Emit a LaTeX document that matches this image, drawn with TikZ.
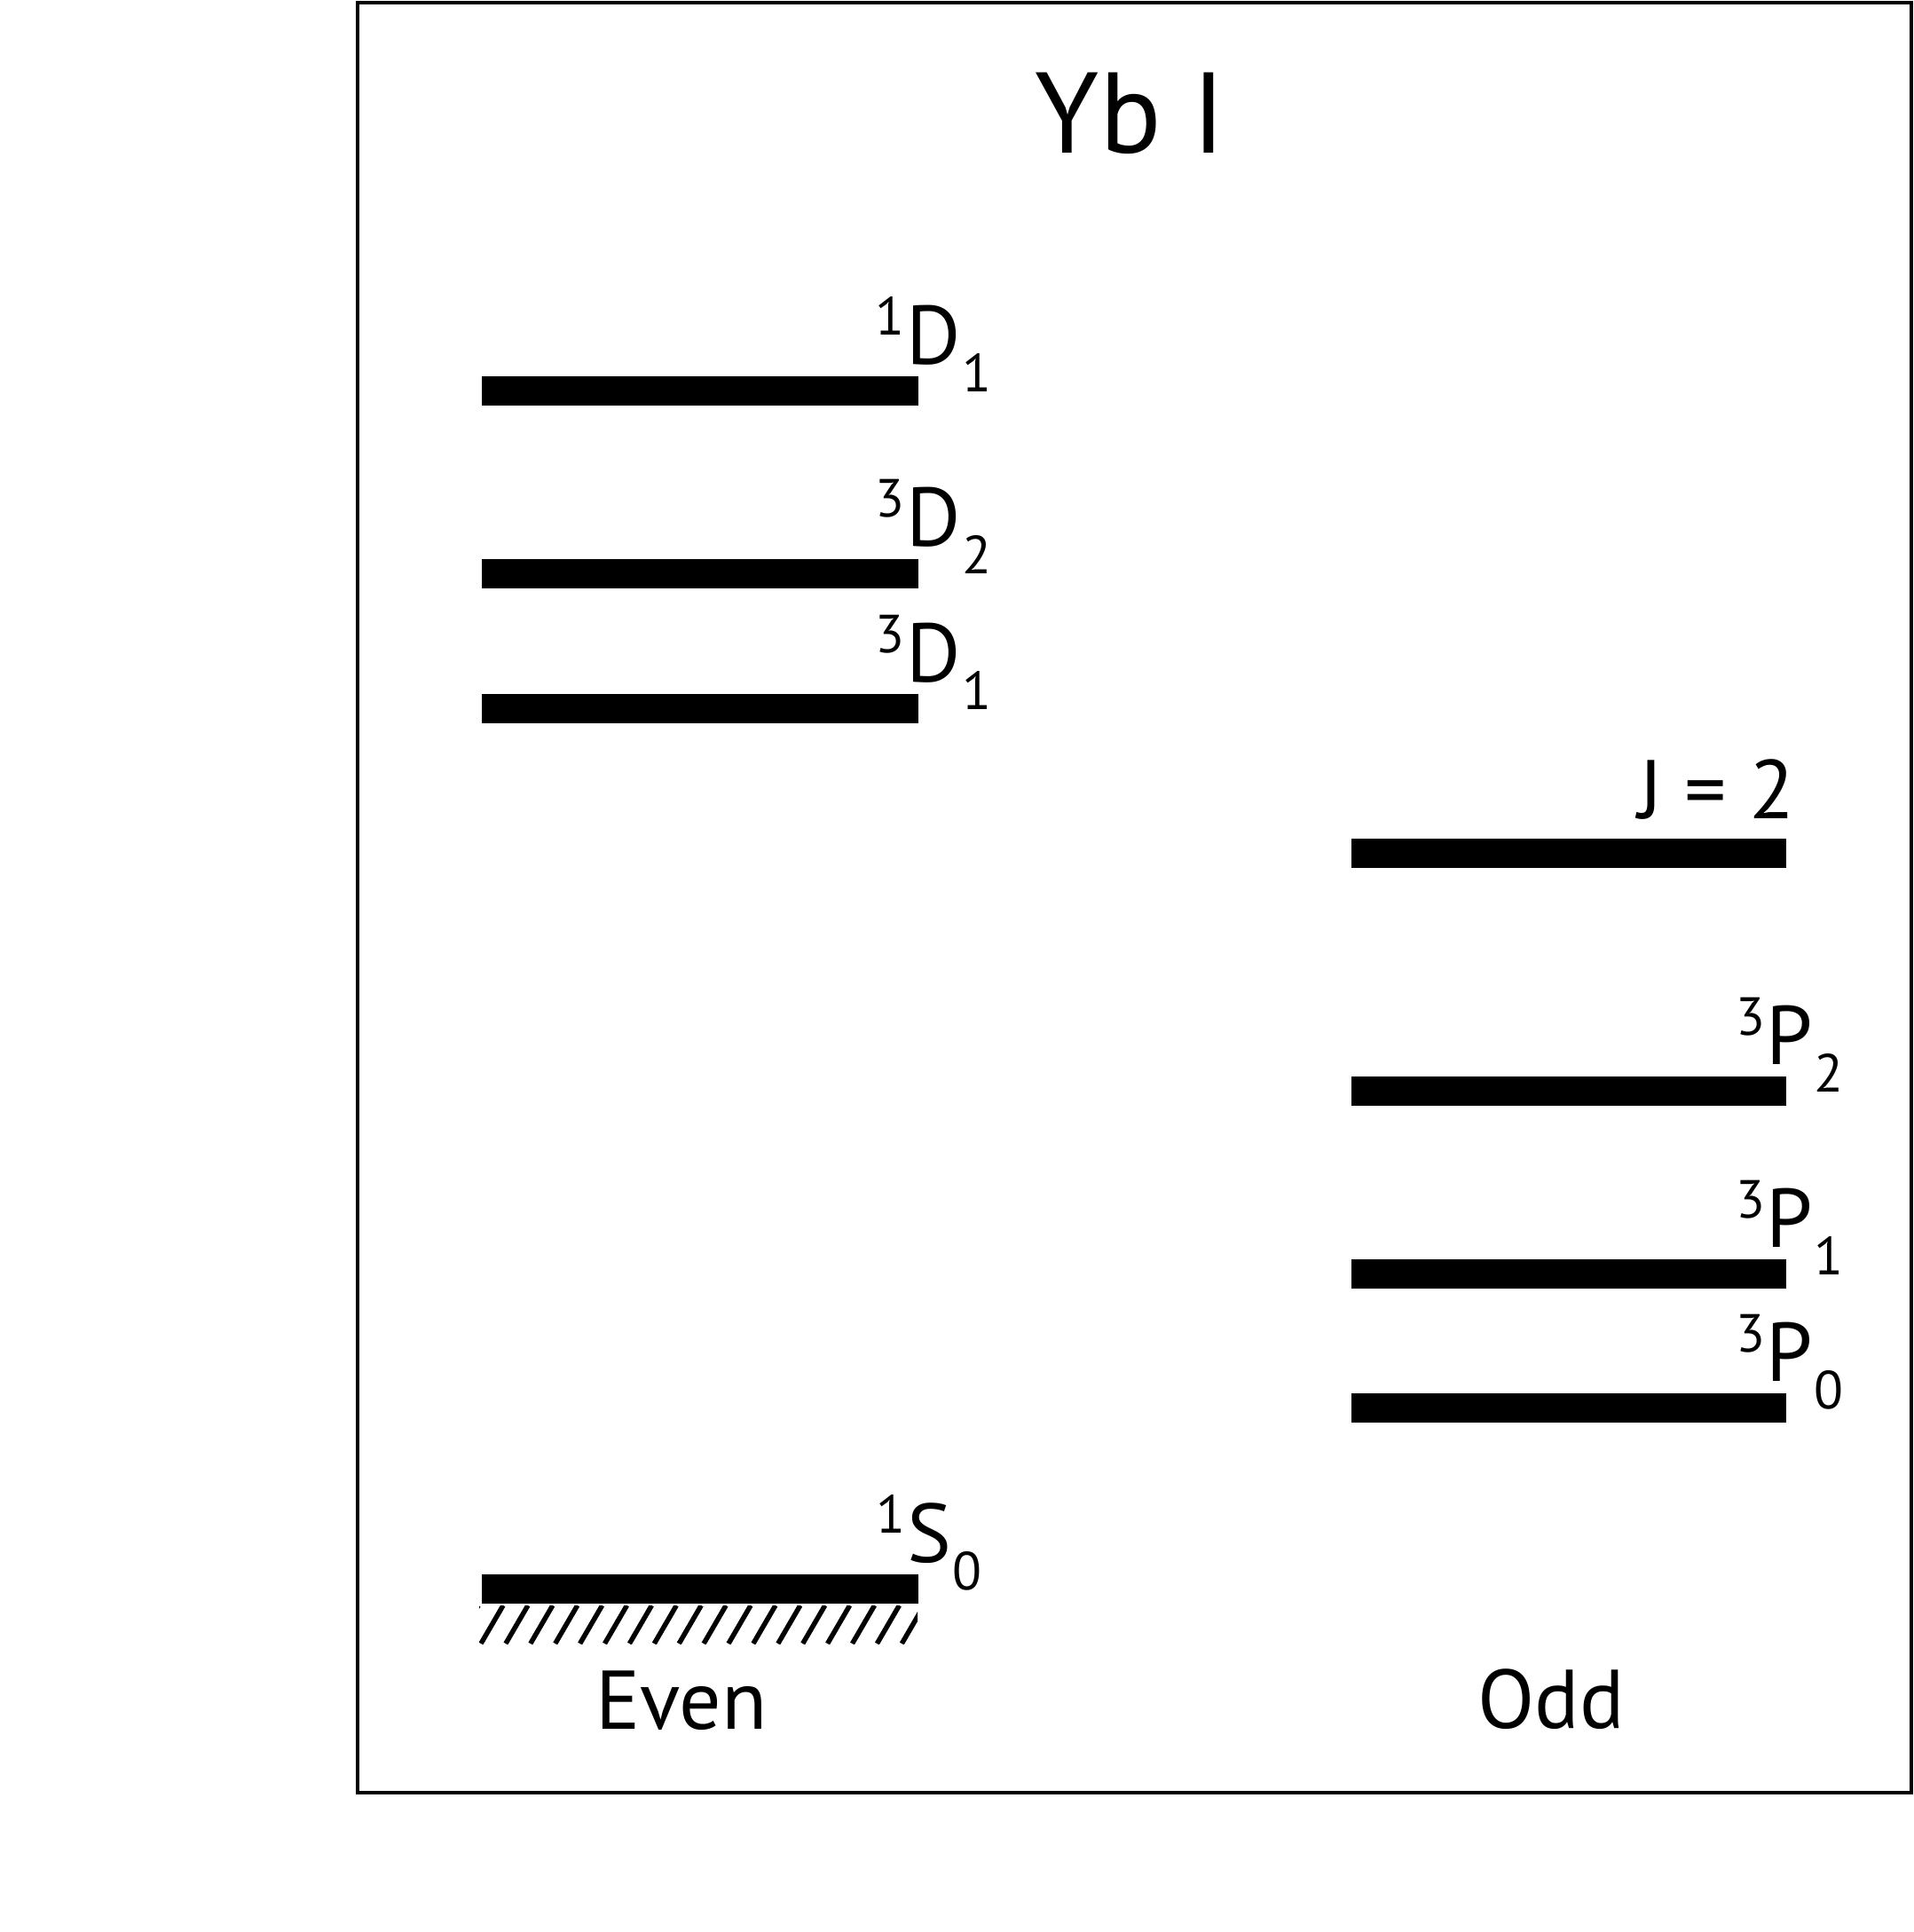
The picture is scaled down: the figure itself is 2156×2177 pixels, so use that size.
\documentclass[tikz,border=0pt]{standalone}
\usepackage{fontspec}
\setmainfont{PT Sans}
\tikzset{
  lvlbar/.style={fill=black},
  mainlbl/.style={inner sep=0pt, font=\fontsize{26.7}{30}\selectfont},
  scriptlbl/.style={inner sep=0pt, font=\fontsize{17.2}{20}\selectfont},
  titlelbl/.style={inner sep=0pt, font=\fontsize{36.8}{40}\selectfont},
  framebox/.style={draw=black, line width=0.45mm},
  hatchline/.style={line width=0.55mm},
}
\newcommand\levlabel[6]{%
  \node[mainlbl, anchor=base] (#1) at (#2,#3) {#5};
  \node[scriptlbl, anchor=base east, yshift=3.3mm] (#1sup) at (#1.base west) {#4};
  \node[scriptlbl, anchor=base west, yshift=-3.1mm] (#1sub) at (#1.base east) {#6};
}
\begin{document}
\begin{tikzpicture}[x=0.1mm, y=-0.1mm]
\useasboundingbox (0,0) rectangle (2156,2177);
\draw[framebox] (403,3) rectangle (2154,2020);
% title
\node[titlelbl, anchor=base] (title) at (1274,172) {Yb I};
% even levels
\fill[lvlbar] (543,424) rectangle (1035,457);
\fill[lvlbar] (543,630) rectangle (1035,663);
\fill[lvlbar] (543,782) rectangle (1035,815);
\fill[lvlbar] (543,1774) rectangle (1035,1807);
% odd levels
\fill[lvlbar] (1523,945) rectangle (2013,978);
\fill[lvlbar] (1523,1213) rectangle (2013,1246);
\fill[lvlbar] (1523,1419) rectangle (2013,1452);
\fill[lvlbar] (1523,1570) rectangle (2013,1603);
% hatch below ground state
\begin{scope}
  \clip (540,1809) rectangle (1034,1852);
  \foreach \k in {-1,...,18} {
    \draw[hatchline] ({567+27.9*\k-25},1852) -- ({567+27.9*\k},1809);
  }
\end{scope}
% labels
\levlabel{dA}{1052}{410}{1}{D}{1}
\levlabel{dB}{1052}{615}{3}{D}{2}
\levlabel{dC}{1052}{768}{3}{D}{1}
\levlabel{sA}{1047}{1760}{1}{S}{0}
\levlabel{pA}{2017}{1199}{3}{P}{2}
\levlabel{pB}{2017}{1405}{3}{P}{1}
\levlabel{pC}{2017}{1556}{3}{P}{0}
\node[mainlbl, anchor=base east] (jtwo) at (2023,922) {J = 2};
\node[mainlbl, anchor=base] (even) at (768,1948) {Even};
\node[mainlbl, anchor=base] (odd) at (1748,1947) {Odd};
\end{tikzpicture}
\end{document}
